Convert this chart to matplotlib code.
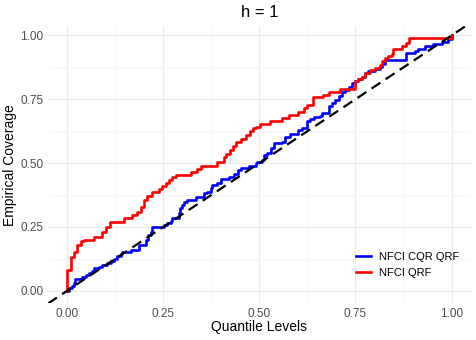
import matplotlib
matplotlib.use("Agg")
import matplotlib.pyplot as plt
import numpy as np

plt.rcParams["font.family"] = ["Liberation Sans", "DejaVu Sans"]

TITLE = "h = 1"
X_LABEL = "Quantile Levels"
Y_LABEL = "Empirical Coverage"
TICKS = [0.0, 0.25, 0.5, 0.75, 1.0]
TICK_LABELS = ["0.00", "0.25", "0.50", "0.75", "1.00"]

# step curves (x = quantile level, y = coverage from x on)
cqr_x = [0.000, 0.005, 0.012, 0.018, 0.020, 0.039, 0.048, 0.057, 0.065, 0.070,
         0.083, 0.091, 0.104, 0.113, 0.122, 0.130, 0.139, 0.143, 0.165, 0.187,
         0.204, 0.210, 0.217, 0.221, 0.251, 0.260, 0.269, 0.273, 0.290, 0.293,
         0.299, 0.303, 0.312, 0.334, 0.355, 0.364, 0.373, 0.377, 0.390, 0.399,
         0.420, 0.433, 0.444, 0.451, 0.472, 0.490, 0.494, 0.507, 0.511, 0.520,
         0.530, 0.537, 0.550, 0.559, 0.568, 0.581, 0.600, 0.611, 0.624, 0.632,
         0.641, 0.658, 0.663, 0.680, 0.689, 0.697, 0.706, 0.715, 0.723, 0.732,
         0.741, 0.749, 0.758, 0.767, 0.775, 0.784, 0.801, 0.814, 0.819, 0.827,
         0.882, 0.905, 0.914, 0.931, 0.953, 0.975, 0.992, 1.000]
cqr_y = [0.000, 0.012, 0.020, 0.029, 0.045, 0.052, 0.062, 0.071, 0.078, 0.088,
         0.092, 0.101, 0.107, 0.118, 0.123, 0.136, 0.144, 0.153, 0.160, 0.179,
         0.199, 0.218, 0.231, 0.251, 0.258, 0.267, 0.275, 0.284, 0.303, 0.323,
         0.336, 0.349, 0.356, 0.366, 0.382, 0.388, 0.402, 0.415, 0.421, 0.437,
         0.447, 0.458, 0.471, 0.480, 0.489, 0.500, 0.506, 0.513, 0.532, 0.541,
         0.558, 0.578, 0.580, 0.584, 0.602, 0.614, 0.630, 0.637, 0.663, 0.672,
         0.680, 0.685, 0.696, 0.722, 0.735, 0.748, 0.761, 0.780, 0.787, 0.800,
         0.813, 0.820, 0.829, 0.839, 0.852, 0.859, 0.868, 0.878, 0.890, 0.902,
         0.931, 0.940, 0.948, 0.957, 0.966, 0.974, 0.987, 1.000]

qrf_x = [0.000, 0.000, 0.009, 0.018, 0.026, 0.035, 0.044, 0.070, 0.091, 0.100,
         0.111, 0.148, 0.169, 0.182, 0.191, 0.200, 0.208, 0.221, 0.238, 0.247,
         0.256, 0.264, 0.273, 0.282, 0.321, 0.338, 0.347, 0.390, 0.407, 0.414,
         0.423, 0.432, 0.440, 0.451, 0.466, 0.475, 0.484, 0.492, 0.501, 0.529,
         0.559, 0.576, 0.600, 0.615, 0.624, 0.639, 0.665, 0.680, 0.710, 0.749,
         0.758, 0.767, 0.775, 0.788, 0.801, 0.814, 0.819, 0.827, 0.836, 0.845,
         0.849, 0.871, 0.882, 0.890, 1.000]
qrf_y = [0.000, 0.080, 0.133, 0.153, 0.179, 0.195, 0.199, 0.209, 0.231, 0.251,
         0.271, 0.284, 0.297, 0.310, 0.329, 0.356, 0.371, 0.388, 0.398, 0.411,
         0.421, 0.434, 0.445, 0.454, 0.467, 0.477, 0.490, 0.503, 0.523, 0.536,
         0.552, 0.567, 0.584, 0.594, 0.611, 0.624, 0.637, 0.643, 0.654, 0.663,
         0.676, 0.689, 0.702, 0.715, 0.728, 0.758, 0.767, 0.780, 0.790, 0.820,
         0.829, 0.839, 0.852, 0.863, 0.872, 0.885, 0.898, 0.911, 0.918, 0.927,
         0.948, 0.957, 0.970, 0.990, 1.000]


def main() -> None:
    figure = plt.figure(figsize=(4.76, 3.40), dpi=100)
    axis = figure.add_axes([0.1008, 0.1074, 0.8881, 0.8161])

    axis.step(cqr_x, cqr_y, where="post", color="#0000ff", lw=1.9,
              label="NFCI CQR QRF", zorder=3)
    axis.step(qrf_x, qrf_y, where="post", color="#ff0000", lw=1.9,
              label="NFCI QRF", zorder=4)
    axis.axline((0, 0), slope=1, color="black", lw=1.6,
                linestyle=(0, (4.8, 2.8)), dash_capstyle="butt", zorder=5)

    axis.set_xlim(-0.05, 1.05)
    axis.set_ylim(-0.05, 1.037)
    axis.set_xticks(TICKS, TICK_LABELS)
    axis.set_yticks(TICKS, TICK_LABELS)
    axis.set_xticks(np.array(TICKS[:-1]) + 0.125, minor=True)
    axis.set_yticks(np.array(TICKS[:-1]) + 0.125, minor=True)
    axis.tick_params(which="both", length=0, labelsize=8.5, labelcolor="#4d4d4d", pad=3.2)
    axis.grid(which="major", color="#ebebeb", lw=0.8)
    axis.grid(which="minor", color="#f0f0f0", lw=0.45)
    axis.set_axisbelow(True)
    for spine in axis.spines.values():
        spine.set_visible(False)

    axis.set_xlabel(X_LABEL, fontsize=10, va="center")
    axis.xaxis.set_label_coords(0.5, -0.085)
    axis.set_ylabel(Y_LABEL, fontsize=10, va="center")
    axis.yaxis.set_label_coords(-0.09, 0.5)
    axis.set_title(TITLE, fontsize=12, y=1.05, va="center", pad=0)

    axis.legend(loc="center left", bbox_to_anchor=(0.729, 0.139), frameon=False,
                fontsize=8, handlelength=1.3, handletextpad=0.75,
                labelspacing=0.55, borderpad=0, borderaxespad=0)

    figure.savefig("out.png", dpi=100)
    plt.close(figure)


if __name__ == "__main__":
    main()
